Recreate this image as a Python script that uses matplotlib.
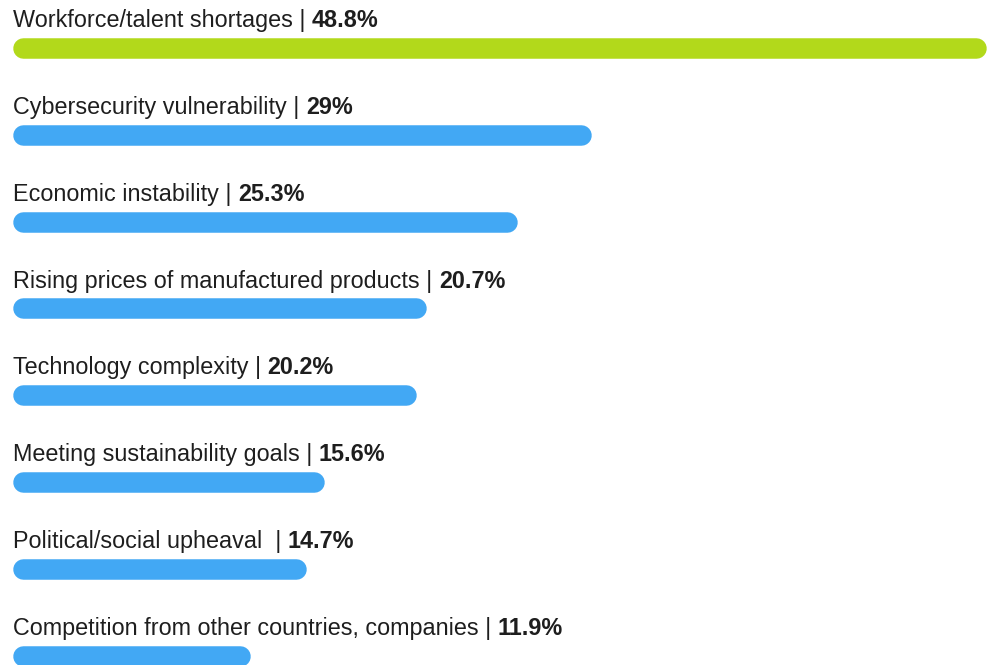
import matplotlib
matplotlib.use("Agg")
import matplotlib.pyplot as plt

categories = [
    "Workforce/talent shortages",
    "Cybersecurity vulnerability",
    "Economic instability",
    "Rising prices of manufactured products",
    "Technology complexity",
    "Meeting sustainability goals",
    "Political/social upheaval ",
    "Competition from other countries, companies",
]
values = [48.8, 29, 25.3, 20.7, 20.2, 15.6, 14.7, 11.9]
value_labels = ["48.8%", "29%", "25.3%", "20.7%", "20.2%", "15.6%", "14.7%", "11.9%"]

GREEN = "#B2D91B"
BLUE = "#42A8F4"
TEXT = "#1E1E1E"
FONT = "Liberation Sans"
FS = 16.8

W, H = 991, 665
fig = plt.figure(figsize=(W / 100, H / 100), dpi=100)
ax = fig.add_axes([0, 0, 1, 1])
ax.set_axis_off()

# pixel geometry of the layout
x0_px = 13.0
px_per_pct = 19.94
row0_px = 48.0
row_px = 86.8
bar_px = 20.5

ax.set_xlim(-x0_px / px_per_pct, (W - x0_px) / px_per_pct)
ax.set_ylim((H - row0_px) / row_px, -row0_px / row_px)

radius_x = (bar_px / 2) / px_per_pct
lw_pt = bar_px * 72 / 100

for i, (cat, val, vl) in enumerate(zip(categories, values, value_labels)):
    color = GREEN if i == 0 else BLUE
    # pill-shaped bar: a thick line with round caps spanning 0..val
    ax.plot([radius_x, val - radius_x], [i, i], color=color, lw=lw_pt,
            solid_capstyle="round")

    base_y = i - (bar_px / 2 + 10.5) / row_px
    t = ax.text(0, base_y, cat + " | ", fontsize=FS, family=FONT,
                color=TEXT, va="baseline", ha="left")
    ax.annotate(vl, xy=(1, 0), xycoords=t, xytext=(0, 0),
                textcoords="offset points", fontsize=FS, family=FONT,
                fontweight="bold", color=TEXT, va="bottom", ha="left")

fig.savefig("out.png", dpi=100, facecolor="white")
